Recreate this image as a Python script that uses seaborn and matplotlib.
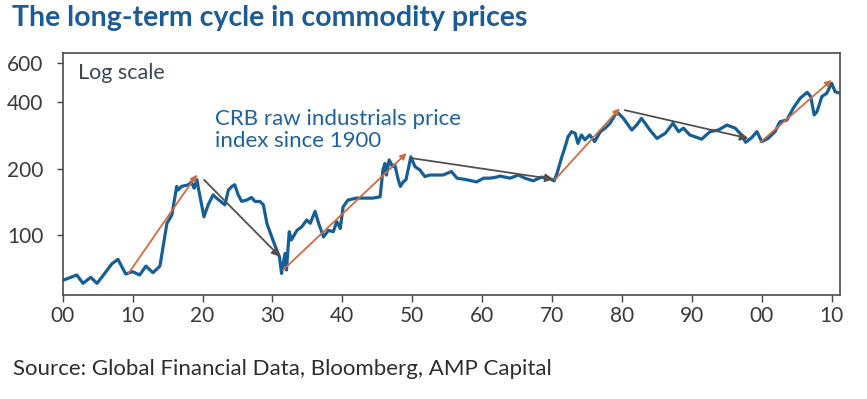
import matplotlib
matplotlib.use("Agg")
import matplotlib.pyplot as plt
import seaborn as sns
import pandas as pd

# CRB raw industrials index (year, index level)
years = [1900.1, 1902.0, 1902.9, 1904.0, 1904.9, 1906.0, 1907.0, 1907.9, 1909.0, 1910.0,
         1911.0, 1911.9, 1912.9, 1913.9, 1914.5, 1914.9, 1915.6, 1916.3, 1916.5, 1917.0,
         1918.0, 1918.4, 1918.8, 1919.2, 1919.4, 1920.2, 1920.8, 1921.5, 1922.0, 1923.2,
         1923.7, 1924.2, 1924.6, 1925.1, 1925.6, 1926.3, 1927.0, 1927.5, 1928.2, 1928.7,
         1929.2, 1929.9, 1930.6, 1931.0, 1931.3, 1931.8, 1932.0, 1932.4, 1932.7, 1933.5,
         1934.2, 1934.9, 1935.4, 1936.1, 1936.6, 1937.3, 1938.0, 1938.7, 1939.2, 1939.7,
         1940.1, 1940.8, 1942.0, 1943.5, 1944.4, 1945.4, 1945.8, 1946.1, 1946.3, 1946.7,
         1947.2, 1947.5, 1948.0, 1948.3, 1948.7, 1949.1, 1949.8, 1950.4, 1951.1, 1951.8,
         1952.5, 1953.5, 1954.4, 1955.6, 1956.4, 1957.8, 1959.2, 1960.2, 1961.1, 1962.1,
         1962.5, 1964.0, 1965.2, 1966.1, 1967.3, 1968.5, 1969.5, 1970.3, 1970.7, 1971.4,
         1971.8, 1972.3, 1972.8, 1973.3, 1973.7, 1974.2, 1974.7, 1975.4, 1976.1, 1976.9,
         1977.6, 1978.3, 1979.0, 1979.5, 1980.2, 1980.9, 1981.4, 1982.1, 1982.8, 1984.0,
         1985.0, 1986.2, 1987.3, 1988.1, 1988.8, 1989.7, 1991.4, 1992.6, 1993.8, 1995.0,
         1996.2, 1997.1, 1997.7, 1998.6, 1999.3, 2000.0, 2000.9, 2001.9, 2002.6, 2003.6,
         2004.5, 2005.5, 2006.5, 2007.0, 2007.5, 2007.9, 2008.6, 2009.3, 2010.0, 2010.5,
         2011.2]
index = [62.5, 65.9, 60.4, 64.3, 60.4, 67.0, 73.9, 77.6, 66.6, 68.2,
         65.9, 72.3, 67.5, 72.3, 94.9, 113, 123, 166, 160, 166,
         169, 174, 163, 178, 163, 121, 137, 152, 147, 137,
         160, 166, 169, 152, 142, 144, 148, 142, 142, 137,
         113, 98, 85.5, 79.7, 67, 82.6, 69.4, 103.5, 94.9, 105,
         109, 117, 113, 128, 113, 98, 105, 103.5, 115, 107,
         134, 144, 147, 147, 147, 149, 197, 211, 187, 219,
         204, 208, 178, 166, 174, 178, 226, 204, 197, 184,
         187, 187, 187, 194, 181, 178, 174, 181, 181, 183,
         185, 181, 187, 181, 176, 183, 181, 176, 190, 226,
         247, 279, 294, 289, 260, 284, 270, 284, 265, 294,
         305, 321, 350, 356, 338, 315, 299, 315, 338, 299,
         274, 289, 321, 294, 305, 284, 272, 294, 299, 315,
         305, 284, 263, 277, 294, 265, 274, 294, 326, 332,
         375, 417, 443, 424, 350, 362, 424, 439, 487, 446,
         439]

# trend arrows: (start year, start level, end year, end level)
up_trends = [(1909.4, 67, 1919.2, 188), (1931.5, 69.4, 1949.2, 235),
             (1970.4, 178, 1979.7, 375), (1999.8, 263, 2010.0, 504)]
down_trends = [(1920.2, 178, 1931.1, 79.7), (1949.9, 223, 1970.2, 179),
               (1980.4, 368, 1998.1, 274)]

x_ticks = [1900, 1910, 1920, 1930, 1940, 1950, 1960, 1970, 1980, 1990, 2000, 2010]
x_labels = ["00", "10", "20", "30", "40", "50", "60", "70", "80", "90", "00", "10"]
y_ticks = [100, 200, 400, 600]

sns.set_theme(style="white")
plt.rcParams["font.family"] = ["Lato", "DejaVu Sans"]

df = pd.DataFrame({"year": years, "index": index})

fig = plt.figure(figsize=(8.67, 3.99), dpi=100)
ax = fig.add_axes([0.0724, 0.2607, 0.8965, 0.6065])

sns.lineplot(data=df, x="year", y="index", ax=ax, color="#165f96",
             linewidth=2.3, estimator=None, sort=False)

for x0, y0, x1, y1 in up_trends:
    ax.annotate("", xy=(x1, y1), xytext=(x0, y0),
                arrowprops=dict(arrowstyle="-|>", color="#d06a40", lw=1.3,
                                mutation_scale=9, shrinkA=0, shrinkB=0))
for x0, y0, x1, y1 in down_trends:
    ax.annotate("", xy=(x1, y1), xytext=(x0, y0),
                arrowprops=dict(arrowstyle="-|>", color="#505050", lw=1.3,
                                mutation_scale=12, shrinkA=0, shrinkB=0))

ax.set_yscale("log")
ax.set_xlim(1900, 2011.2)
ax.set_ylim(53.5, 668)
ax.set_yticks(y_ticks)
ax.set_yticklabels([str(t) for t in y_ticks])
ax.minorticks_off()
ax.set_xticks(x_ticks)
ax.set_xticklabels(x_labels)
ax.set_xlabel("")
ax.set_ylabel("")
ax.tick_params(axis="both", direction="out", length=4, width=1, color="#444444",
               labelsize=15, labelcolor="#3a3a3a")
ax.tick_params(axis="x", bottom=True, length=5, pad=3)
ax.tick_params(axis="y", left=True, pad=10)
for s in ax.spines.values():
    s.set_color("#4a4a4a")
    s.set_linewidth(1.2)

ax.text(0.02, 0.917, "Log scale", transform=ax.transAxes, fontsize=15.5,
        color="#3d4756", va="center", ha="left")
ax.text(1921.8, 300, "CRB raw industrials price\nindex since 1900", fontsize=16,
        color="#1f62a3", va="center", ha="left", linespacing=1.12)

fig.text(0.014, 0.955, "The long-term cycle in commodity prices", fontsize=20.5,
         fontweight="bold", color="#1b5c96", va="center", ha="left")
fig.text(0.015, 0.075, "Source: Global Financial Data, Bloomberg, AMP Capital",
         fontsize=16, color="#2e2e2e", va="center", ha="left")

fig.savefig("out.png", dpi=100)
